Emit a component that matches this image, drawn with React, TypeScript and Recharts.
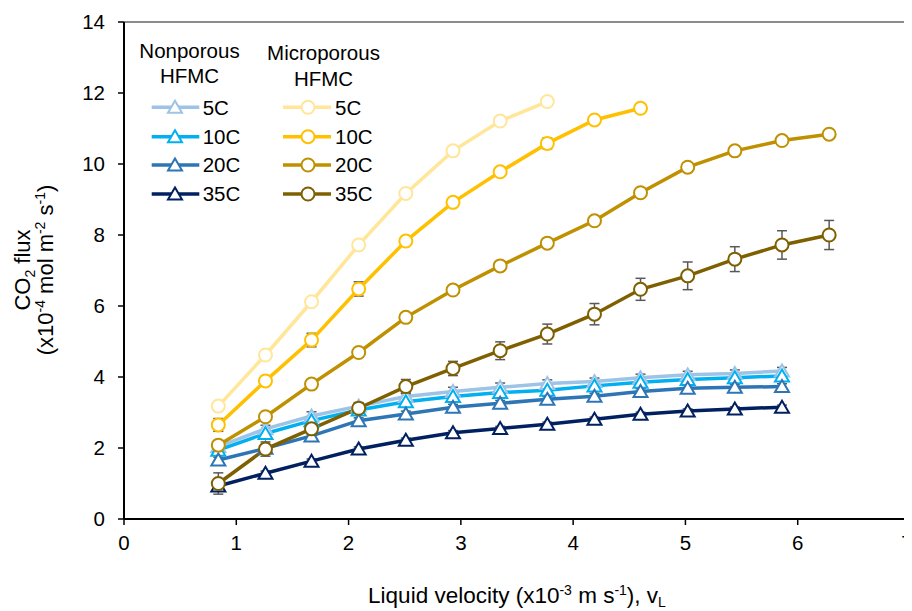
import React from 'react';
import { LineChart, Line, XAxis, YAxis, ErrorBar, ReferenceLine, Legend } from 'recharts';

const xNonporous = [0.84, 1.26, 1.67, 2.09, 2.51, 2.93, 3.35, 3.77, 4.19, 4.6, 5.02, 5.44, 5.86];
const xMicroporous = [0.84, 1.26, 1.67, 2.09, 2.51, 2.93, 3.35, 3.77, 4.19, 4.6, 5.02, 5.44, 5.86, 6.28];

const np5 = [2.04, 2.54, 2.9, 3.18, 3.45, 3.59, 3.71, 3.82, 3.87, 3.98, 4.06, 4.1, 4.17];
const np10 = [1.94, 2.41, 2.77, 3.07, 3.3, 3.45, 3.56, 3.63, 3.75, 3.85, 3.93, 3.98, 4.03];
const np20 = [1.66, 1.99, 2.34, 2.77, 2.96, 3.15, 3.26, 3.37, 3.46, 3.59, 3.68, 3.71, 3.73];
const np35 = [0.93, 1.29, 1.63, 1.97, 2.22, 2.43, 2.55, 2.67, 2.81, 2.95, 3.04, 3.1, 3.15];

const np5Err = [0.1, 0.1, 0.12, 0.1, 0.1, 0.12, 0.12, 0.1, 0.1, 0.1, 0.1, 0.1, 0.1];
const np10Err = [0.08, 0.08, 0.1, 0.08, 0.08, 0.08, 0.08, 0.08, 0.08, 0.08, 0.08, 0.08, 0.08];
const np20Err = [0.08, 0.08, 0.1, 0.08, 0.08, 0.08, 0.08, 0.08, 0.08, 0.08, 0.08, 0.08, 0.08];
const np35Err = [0.08, 0.06, 0.06, 0.06, 0.06, 0.06, 0.06, 0.06, 0.06, 0.06, 0.06, 0.06, 0.06];

const mp5 = [3.18, 4.62, 6.12, 7.72, 9.17, 10.37, 11.21, 11.76];
const mp10 = [2.65, 3.89, 5.04, 6.48, 7.83, 8.92, 9.78, 10.58, 11.24, 11.57];
const mp20 = [2.08, 2.88, 3.8, 4.69, 5.68, 6.45, 7.13, 7.77, 8.4, 9.19, 9.91, 10.37, 10.66, 10.84];
const mp35 = [1.0, 1.97, 2.54, 3.12, 3.73, 4.24, 4.74, 5.21, 5.77, 6.47, 6.85, 7.32, 7.72, 8.0];

const mp5Err = [0.05, 0.05, 0.05, 0.05, 0.05, 0.05, 0.05, 0.05];
const mp10Err = [0.18, 0.1, 0.19, 0.2, 0.1, 0.1, 0.1, 0.15, 0.08, 0.05];
const mp20Err = [0.08, 0.08, 0.08, 0.08, 0.08, 0.08, 0.08, 0.08, 0.08, 0.12, 0.12, 0.08, 0.12, 0.08];
const mp35Err = [0.3, 0.2, 0.15, 0.15, 0.2, 0.2, 0.25, 0.28, 0.3, 0.31, 0.39, 0.35, 0.4, 0.41];

const xTicks = [0, 1, 2, 3, 4, 5, 6, 7];
const yTicks = [0, 2, 4, 6, 8, 10, 12, 14];

const tempLabels = ['5C', '10C', '20C', '35C'];
const npColors = ['#9DC3E6', '#00B0F0', '#2E75B6', '#002060'];
const mpColors = ['#FFE699', '#FFC000', '#BF9000', '#7F6000'];

const build = (xs: number[], ys: number[], errs: number[]) =>
  ys.map((y, i) => ({ x: xs[i], y, err: errs[i] }));

const npSeries = [
  build(xNonporous, np5, np5Err),
  build(xNonporous, np10, np10Err),
  build(xNonporous, np20, np20Err),
  build(xNonporous, np35, np35Err),
];
const mpSeries = [
  build(xMicroporous, mp5, mp5Err),
  build(xMicroporous, mp10, mp10Err),
  build(xMicroporous, mp20, mp20Err),
  build(xMicroporous, mp35, mp35Err),
];

const FONT = '"Liberation Sans", Arial, sans-serif';

const triPath = (cx: number, cy: number) => {
  const w = 7, h = 6.5;
  return `M${cx},${cy - h} L${cx + w},${cy + h - 1} L${cx - w},${cy + h - 1} Z`;
};

const makeTriangleDot = (color: string) => (props: any) => {
  const { cx, cy, index } = props;
  if (cx == null || cy == null) return <g key={`t${index}`} />;
  return <path key={`t${index}`} d={triPath(cx, cy)} fill="#fff" stroke={color} strokeWidth={2} />;
};

const makeCircleDot = (color: string) => (props: any) => {
  const { cx, cy, index } = props;
  if (cx == null || cy == null) return <g key={`c${index}`} />;
  return <circle key={`c${index}`} cx={cx} cy={cy} r={6.5} fill="#fff" stroke={color} strokeWidth={2} />;
};

const LegendBox = () => {
  const rows = [99.3, 128.7, 157, 186];
  return (
    <svg width={400} height={210} style={{ overflow: 'visible' }}>
      <g fontFamily={FONT} fontSize={20.5} fill="#000">
        <text x={181.5} y={50} textAnchor="middle">Nonporous</text>
        <text x={181.5} y={75} textAnchor="middle">HFMC</text>
        <text x={315.5} y={52} textAnchor="middle">Microporous</text>
        <text x={315.5} y={78} textAnchor="middle">HFMC</text>
        {rows.map((ry, i) => (
          <g key={i}>
            <line x1={143.7} x2={191.3} y1={ry} y2={ry} stroke={npColors[i]} strokeWidth={3.5} />
            <path d={triPath(167, ry)} fill="#fff" stroke={npColors[i]} strokeWidth={2} />
            <text x={194.7} y={ry} dy="0.36em">{tempLabels[i]}</text>
            <line x1={275} x2={323} y1={ry} y2={ry} stroke={mpColors[i]} strokeWidth={3.5} />
            <circle cx={300} cy={ry} r={6.5} fill="#fff" stroke={mpColors[i]} strokeWidth={2} />
            <text x={327} y={ry} dy="0.36em">{tempLabels[i]}</text>
          </g>
        ))}
      </g>
    </svg>
  );
};

const XLabel = (props: any) => {
  const vb = props.viewBox || {};
  const cx = (vb.x ?? 116) + (vb.width ?? 786) / 2;
  return (
    <text x={cx} y={595} textAnchor="middle" fontFamily={FONT} fontSize={22.5} fill="#000">
      <tspan>Liquid velocity (x10</tspan>
      <tspan dy={-8} fontSize={14}>-3</tspan>
      <tspan dy={8}> m s</tspan>
      <tspan dy={-8} fontSize={14}>-1</tspan>
      <tspan dy={8}>), v</tspan>
      <tspan dy={4} fontSize={14}>L</tspan>
    </text>
  );
};

const YLabel = () => {
  const cy = 262;
  return (
    <g fontFamily={FONT} fontSize={22} fill="#000">
      <text transform={`translate(22, ${cy}) rotate(-90)`} textAnchor="middle">
        <tspan>CO</tspan>
        <tspan dy={5} fontSize={14}>2</tspan>
        <tspan dy={-5}> flux</tspan>
      </text>
      <text transform={`translate(45, ${cy}) rotate(-90)`} textAnchor="middle">
        <tspan>(x10</tspan>
        <tspan dy={-8} fontSize={14}>-4</tspan>
        <tspan dy={8}> mol m</tspan>
        <tspan dy={-8} fontSize={14}>-2</tspan>
        <tspan dy={8}> s</tspan>
        <tspan dy={-8} fontSize={14}>-1</tspan>
        <tspan dy={8}>)</tspan>
      </text>
    </g>
  );
};

export default function App() {
  const tickStyle = { fontFamily: FONT, fontSize: 20.5, fill: '#000' };
  return (
    <LineChart width={904} height={603} margin={{ top: 14, right: 2, bottom: 0, left: 0 }}>
      <XAxis
        dataKey="x"
        type="number"
        domain={[0, 7]}
        ticks={xTicks}
        allowDuplicatedCategory={false}
        height={92}
        tickSize={6}
        tickMargin={10}
        tick={tickStyle}
        axisLine={{ stroke: '#000', strokeWidth: 2 }}
        tickLine={{ stroke: '#000', strokeWidth: 1.5 }}
        label={<XLabel />}
      />
      <YAxis
        yAxisId="left"
        type="number"
        domain={[0, 14]}
        ticks={yTicks}
        width={116}
        tickSize={6}
        tickMargin={13}
        tick={tickStyle}
        axisLine={{ stroke: '#000', strokeWidth: 2 }}
        tickLine={{ stroke: '#000', strokeWidth: 1.5 }}
        label={<YLabel />}
      />
      <YAxis
        yAxisId="right"
        orientation="right"
        type="number"
        domain={[0, 14]}
        width={0}
        tick={false}
        tickLine={false}
        axisLine={{ stroke: '#111', strokeWidth: 2 }}
      />
      <ReferenceLine yAxisId="left" y={14} stroke="#8c8c8c" strokeWidth={2} />
      {npSeries.map((d, i) => (
        <Line
          key={`np${i}`}
          yAxisId="left"
          data={d}
          dataKey="y"
          name={`Nonporous ${tempLabels[i]}`}
          stroke={npColors[i]}
          strokeWidth={3.5}
          dot={makeTriangleDot(npColors[i])}
          activeDot={false}
          isAnimationActive={false}
        >
          <ErrorBar dataKey="err" direction="y" width={5} stroke="#595959" strokeWidth={1.5} />
        </Line>
      ))}
      {mpSeries.map((d, i) => (
        <Line
          key={`mp${i}`}
          yAxisId="left"
          data={d}
          dataKey="y"
          name={`Microporous ${tempLabels[i]}`}
          stroke={mpColors[i]}
          strokeWidth={3.5}
          dot={makeCircleDot(mpColors[i])}
          activeDot={false}
          isAnimationActive={false}
        >
          <ErrorBar dataKey="err" direction="y" width={5} stroke="#595959" strokeWidth={1.5} />
        </Line>
      ))}
      <Legend
        layout="horizontal"
        verticalAlign="middle"
        align="center"
        content={<LegendBox />}
        wrapperStyle={{ left: 0, top: 0, width: 400, height: 210, pointerEvents: 'none' }}
      />
    </LineChart>
  );
}
